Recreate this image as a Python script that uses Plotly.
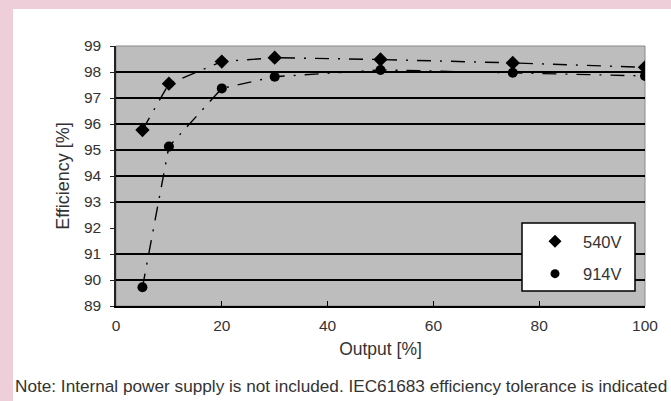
import plotly.graph_objects as go

# ---- data ----
output_pct = [5, 10, 20, 30, 50, 75, 100]
eff_540v = [95.77, 97.55, 98.40, 98.55, 98.48, 98.35, 98.18]
eff_914v = [89.72, 95.13, 97.37, 97.82, 98.08, 97.97, 97.85]
series_names = ["540V", "914V"]
x_ticks = [0, 20, 40, 60, 80, 100]
y_ticks = [89, 90, 91, 92, 93, 94, 95, 96, 97, 98, 99]
grid_vals = [90, 91, 93, 94, 95, 96, 97, 98]
x_title = "Output [%]"
y_title = "Efficiency [%]"
note = "Note: Internal power supply is not included. IEC61683 efficiency tolerance is indicated"

# ---- layout geometry (pixels) ----
W, H = 671, 401
L, R, T, B = 116, 645, 46, 306
pw, ph = R - L, B - T
def px(x):
    return (x - L) / pw
def py(y):
    return (B - y) / ph

FONT = "Liberation Sans, Arial, sans-serif"
TXT = "#333333"
PINK = "#eecfd9"

fig = go.Figure()
dash = "14px,9px,2px,9px"
symbols = ["diamond", "circle"]
sizes = [11, 10]
for name, vals, sym, sz in zip(series_names, [eff_540v, eff_914v], symbols, sizes):
    fig.add_trace(go.Scatter(
        x=output_pct, y=vals, name=name, mode="lines+markers",
        line=dict(color="black", width=1.4, dash=dash),
        marker=dict(symbol=sym, size=sz, color="black"),
        showlegend=False))
# legend entries (markers only, as in the reference legend)
for name, sym, sz in zip(series_names, symbols, sizes):
    fig.add_trace(go.Scatter(
        x=[None], y=[None], name=name, mode="markers",
        marker=dict(symbol=sym, size=sz - 1, color="black"),
        legendgroup=name))
# invisible trace to carry the gridline axis
fig.add_trace(go.Scatter(x=[0], y=[89], yaxis="y2", mode="markers",
                         marker=dict(opacity=0), showlegend=False, hoverinfo="skip"))

shapes = [
    # pink strips of the page background
    dict(type="rect", xref="paper", yref="paper", x0=px(0), x1=px(W), y0=py(9), y1=py(0),
         fillcolor=PINK, line=dict(width=0), layer="below"),
    dict(type="rect", xref="paper", yref="paper", x0=px(0), x1=px(13), y0=py(H), y1=py(0),
         fillcolor=PINK, line=dict(width=0), layer="below"),
    # plot frame
    dict(type="rect", xref="paper", yref="paper", x0=0, x1=1, y0=0, y1=1,
         line=dict(color="#8a8a8a", width=1), layer="below"),
    # legend box
    dict(type="rect", xref="paper", yref="paper", x0=px(522), x1=px(635),
         y0=py(291), y1=py(223), fillcolor="white",
         line=dict(color="black", width=1.5), layer="above"),
]

fig.update_layout(
    width=W, height=H,
    margin=dict(l=L, r=W - R, t=T, b=H - B),
    paper_bgcolor="white",
    plot_bgcolor="#bdbdbd",
    font=dict(family=FONT, size=15, color=TXT),
    shapes=shapes,
    showlegend=True,
    legend=dict(x=px(527), y=py(224), xanchor="left", yanchor="top",
                bgcolor="rgba(0,0,0,0)", borderwidth=0,
                font=dict(size=16.5, color=TXT), tracegroupgap=8,
                itemwidth=46),
    xaxis=dict(range=[0, 100], tickvals=x_ticks, showgrid=False, zeroline=False,
               showline=True, linecolor="black", linewidth=1.5,
               ticks="inside", ticklen=5, tickcolor="black",
               ticklabelstandoff=5, tickfont=dict(size=15.5),
               title=dict(text=x_title, standoff=9, font=dict(size=17.5))),
    yaxis=dict(range=[89, 99], tickvals=y_ticks, showgrid=False, zeroline=False,
               showline=True, linecolor="#222222", linewidth=1.5,
               ticks="outside", ticklen=4, tickcolor="#222222",
               ticklabelstandoff=6, tickfont=dict(size=15.5),
               title=dict(text=y_title, standoff=10, font=dict(size=18))),
    yaxis2=dict(range=[89, 99], overlaying="y", tickvals=grid_vals, showgrid=True,
                gridcolor="black", gridwidth=1.6, showticklabels=False, zeroline=False,
                showline=False, ticks=""),
    annotations=[dict(text=note, xref="paper", yref="paper", x=px(13), y=py(386),
                      xanchor="left", yanchor="middle", showarrow=False,
                      font=dict(size=17.2, color=TXT))],
)

fig.write_html("out.html")
